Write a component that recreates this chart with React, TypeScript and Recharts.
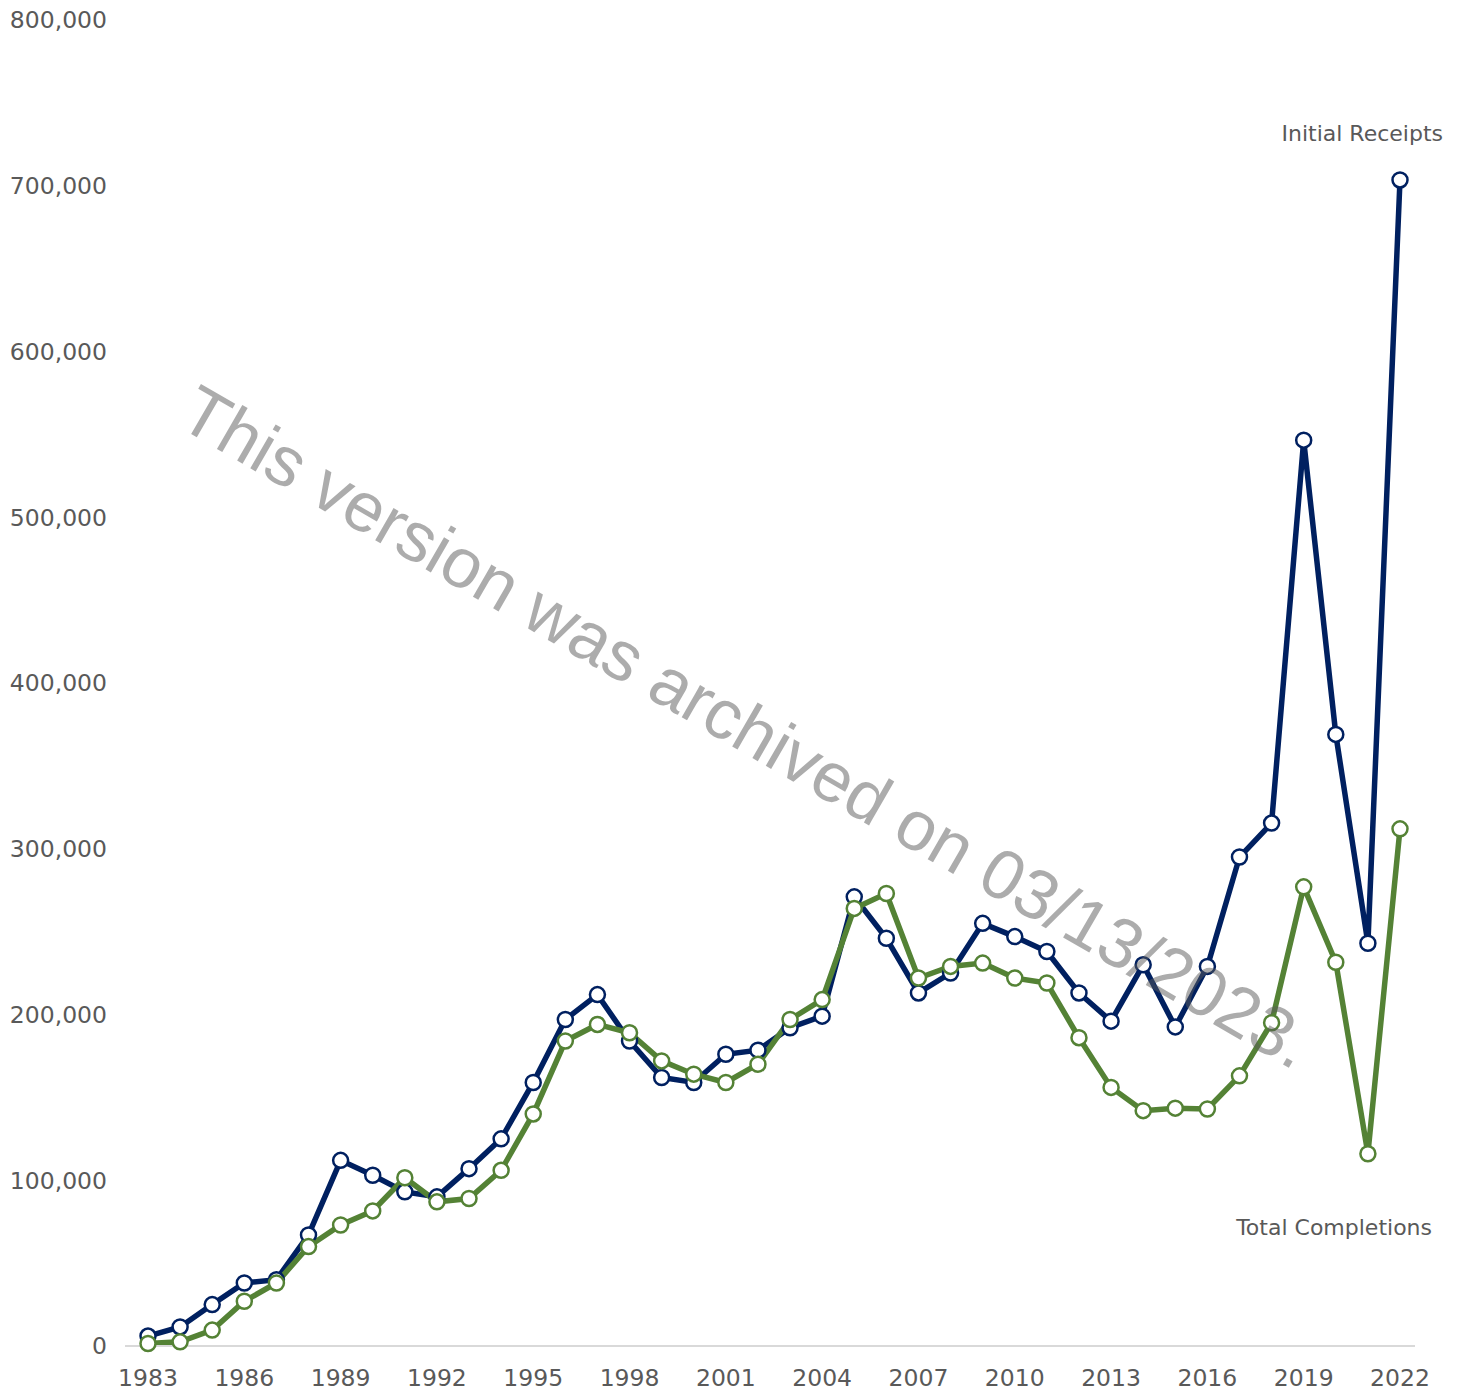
import React from "react"
import { LineChart, Line, XAxis, YAxis } from "recharts"

const years = [
  1983, 1984, 1985, 1986, 1987, 1988, 1989, 1990, 1991, 1992,
  1993, 1994, 1995, 1996, 1997, 1998, 1999, 2000, 2001, 2002,
  2003, 2004, 2005, 2006, 2007, 2008, 2009, 2010, 2011, 2012,
  2013, 2014, 2015, 2016, 2017, 2018, 2019, 2020, 2021, 2022,
]

const initialReceipts = [
  6000, 11500, 25000, 38000, 40000, 67000, 112000, 103000, 93000, 90000,
  107000, 125000, 159000, 197000, 212000, 184000, 162000, 159000, 176000, 178500,
  192000, 199000, 271000, 246000, 213000, 225000, 255000, 247000, 238000, 213000,
  196000, 230000, 192500, 229000, 295000, 315500, 546500, 369000, 243000, 703500,
]

const totalCompletions = [
  1500, 2500, 9600, 27000, 38000, 60000, 73000, 81500, 101500, 87000,
  89000, 106000, 140000, 184000, 194000, 189000, 172000, 164000, 159000, 170000,
  197000, 209000, 264000, 273000, 222000, 229000, 231000, 222000, 219000, 186000,
  156000, 142000, 143500, 143000, 163000, 195000, 277000, 231500, 116000, 312000,
]

const yTicks = [0, 100000, 200000, 300000, 400000, 500000, 600000, 700000, 800000]

const data = years.map((y, i) => ({
  year: y,
  receipts: initialReceipts[i],
  completions: totalCompletions[i],
}))

const NAVY = "#002060"
const GREEN = "#548235"
const GREY = "#595959"
const FONT = "'DejaVu Sans', sans-serif"

const W = 1461
const H = 1391

export default function App() {
  return (
    <div style={{ position: "absolute", left: 0, top: 0, width: W, height: H, background: "#fff" }}>
      <LineChart width={W} height={H} data={data} margin={{ top: 20, right: 46, bottom: 0, left: 0 }}>
        <XAxis
          dataKey="year"
          interval={2}
          padding={{ left: 23, right: 15 }}
          height={45}
          axisLine={{ stroke: "#d9d9d9", strokeWidth: 2 }}
          tickLine={false}
          tickMargin={17}
          tick={{ fontSize: 23.5, fill: GREY, fontFamily: FONT }}
        />
        <YAxis
          domain={[0, 800000]}
          ticks={yTicks}
          width={125}
          axisLine={false}
          tickLine={false}
          tickMargin={12}
          tickFormatter={(v: number) => v.toLocaleString("en-US")}
          tick={{ fontSize: 23.5, fill: GREY, fontFamily: FONT }}
        />
        <Line
          dataKey="receipts"
          stroke={NAVY}
          strokeWidth={5.5}
          dot={{ r: 7.5, fill: "#fff", stroke: NAVY, strokeWidth: 2.5 }}
          isAnimationActive={false}
        />
        <Line
          dataKey="completions"
          stroke={GREEN}
          strokeWidth={5.5}
          dot={{ r: 7.5, fill: "#fff", stroke: GREEN, strokeWidth: 2.5 }}
          isAnimationActive={false}
        />
      </LineChart>
      {/* labels + archive watermark */}
      <svg width={W} height={H} style={{ position: "absolute", left: 0, top: 0, pointerEvents: "none" }}>
        <text x={1443} y={141} textAnchor="end" fontSize={22} fill={GREY} fontFamily={FONT}>Initial Receipts</text>
        <text x={1432} y={1235} textAnchor="end" fontSize={22} fill={GREY} fontFamily={FONT}>Total Completions</text>
        <text
          x={735}
          y={748}
          textAnchor="middle"
          fontSize={70}
          fill={GREY}
          fillOpacity={0.5}
          fontFamily="'Liberation Sans', Arial, sans-serif"
          transform="rotate(30 735 748)"
        >
          This version was archived on 03/13/2023.
        </text>
      </svg>
    </div>
  )
}
